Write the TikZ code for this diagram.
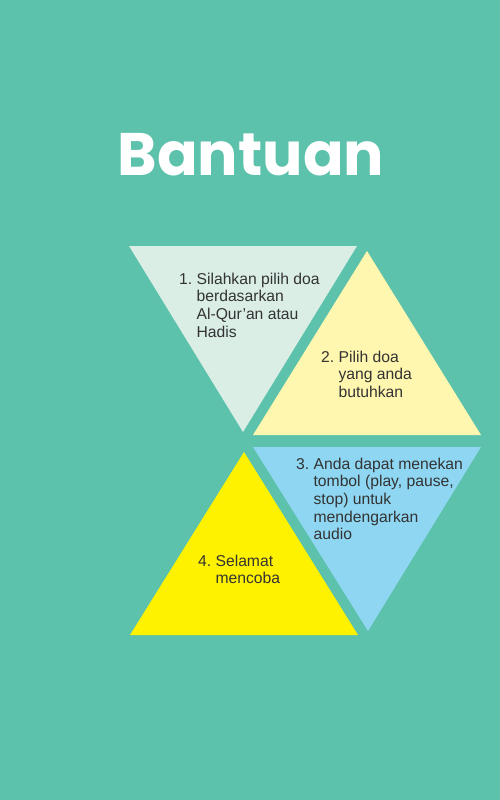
\documentclass[tikz,border=0pt]{standalone}
\usepackage{fontspec}
\setmainfont{Liberation Sans}
\newfontfamily\titlefont{Poppins}
\definecolor{bg}{RGB}{93,194,171}
\definecolor{mint}{RGB}{218,238,230}
\definecolor{paleyellow}{RGB}{255,247,176}
\definecolor{lightblue}{RGB}{142,214,242}
\definecolor{brightyellow}{RGB}{255,242,0}
\definecolor{txtgray}{RGB}{51,51,51}
\tikzset{
  tri/.style={line join=miter},
  txt/.style={inner sep=0pt, anchor=base west, text=txtgray, font=\fontsize{15.7}{17.7}\selectfont},
  ttl/.style={inner sep=0pt, anchor=base, text=white, font=\titlefont\bfseries\fontsize{60}{68}\selectfont}
}
\newcommand{\steplist}[2]{\begin{tabular}[t]{@{}l@{\hspace{4.3pt}}l@{}}#1 & #2\end{tabular}}
\begin{document}
\begin{tikzpicture}[x=1pt,y=-1pt]
\fill[bg] (0,0) rectangle (500,800);
\useasboundingbox (0,0) rectangle (500,800);
\fill[mint, tri] (129,246) -- (357,246) -- (243,432) -- cycle;
\fill[paleyellow, tri] (367,251) -- (481,435) -- (253,435) -- cycle;
\fill[lightblue, tri] (253,447) -- (481,447) -- (368,631) -- cycle;
\fill[brightyellow, tri] (244,452) -- (358,635) -- (130,635) -- cycle;
\node[ttl] (title) at (251,175) {Bantuan};
\node[txt] (t1) at (179,284) {\steplist{1.}{Silahkan pilih doa\\ & berdasarkan\\ & Al-Qur’an atau\\ & Hadis}};
\node[txt] (t2) at (321,362) {\steplist{2.}{Pilih doa\\ & yang anda\\ & butuhkan}};
\node[txt] (t3) at (296,469) {\steplist{3.}{Anda dapat menekan\\ & tombol (play, pause,\\ & stop) untuk\\ & mendengarkan\\ & audio}};
\node[txt] (t4) at (198,566) {\steplist{4.}{Selamat\\ & mencoba}};
\end{tikzpicture}
\end{document}
